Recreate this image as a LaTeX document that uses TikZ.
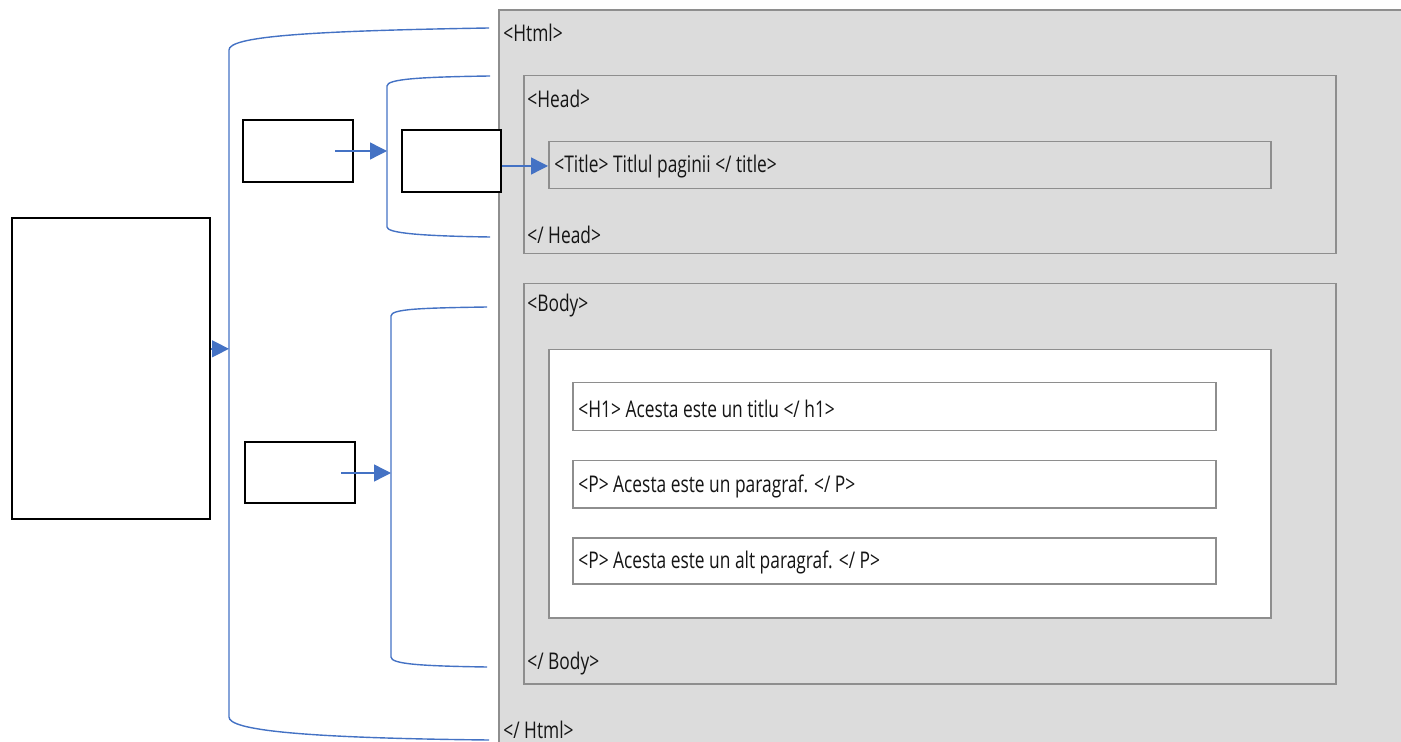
\documentclass[tikz,border=0pt]{standalone}
\usepackage{fontspec}
\setmainfont[FakeStretch=0.755]{Open Sans}
\usetikzlibrary{arrows.meta}
\definecolor{bgray}{HTML}{DCDCDC}
\definecolor{lgray}{HTML}{8E8E8E}
\definecolor{bblue}{HTML}{4472C4}
\definecolor{tcol}{HTML}{151515}
\tikzset{
  blk/.style={draw=black, line width=1pt, fill=white, anchor=north west, inner sep=0pt},
  gbox/.style={draw=lgray, line width=0.75pt, anchor=north west, inner sep=0pt},
  tag/.style={anchor=west, inner sep=0pt, text=tcol, font=\fontsize{11.5}{13}\selectfont},
  brk/.style={draw=bblue, line width=0.7pt},
  arr/.style={draw=bblue, line width=0.7pt, -{Triangle[length=8.5pt,width=8.5pt]}},
}
\begin{document}
\begin{tikzpicture}[x=0.5pt,y=-0.5pt]
\useasboundingbox (0,0) rectangle (1401,742);
\clip (0,0) rectangle (1401,742);
% html background
\fill[bgray] (499,10) rectangle (1410,750);
\draw[lgray, line width=0.75pt] (499,750) -- (499,10) -- (1410,10);
% head and body boxes
\node[gbox, fill=bgray, minimum width=406pt, minimum height=89pt] (head) at (523,75) {};
\node[gbox, fill=bgray, minimum width=361pt, minimum height=23.5pt] (titlebox) at (548,141) {};
\node[gbox, fill=bgray, minimum width=406pt, minimum height=200pt] (body) at (523,283) {};
\node[gbox, fill=white, minimum width=361pt, minimum height=134pt] (inner) at (548,349) {};
\node[gbox, fill=white, minimum width=321.5pt, minimum height=24pt] (h1) at (572,382) {};
\node[gbox, fill=white, minimum width=321.5pt, minimum height=23.5pt] (p1) at (572,460) {};
\node[gbox, fill=white, minimum width=321.5pt, minimum height=23pt] (p2) at (572,537) {};
% texts
\node[tag] (thtml) at (503,33) {<Html>};
\node[tag] (thead) at (527,99) {<Head>};
\node[tag] (ttitle) at (554,167) {<Title> Titlul paginii </ title>};
\node[tag] (theadc) at (527,235) {</ Head>};
\node[tag] (tbody) at (527,306) {<Body>};
\node[tag] (th1) at (578,409) {<H1> Acesta este un titlu </ h1>};
\node[tag] (tp1) at (578,486) {<P> Acesta este un paragraf. </ P>};
\node[tag] (tp2) at (578,562) {<P> Acesta este un alt paragraf. </ P>};
\node[tag] (tbodyc) at (527,664) {</ Body>};
\node[tag] (thtmlc) at (503,730) {</ Html>};
% black boxes
\node[blk, minimum width=99pt, minimum height=150.5pt] (big) at (11,217) {};
\node[blk, minimum width=55pt, minimum height=31pt] (boxa) at (242,119) {};
\node[blk, minimum width=49.5pt, minimum height=31pt] (boxb) at (401,129) {};
\node[blk, minimum width=55pt, minimum height=30.5pt] (boxc) at (244,441) {};
% brackets
\draw[brk] (489,28) .. controls (300,31) and (229,37) .. (229,50)
  -- coordinate[pos=0.448] (outmid) (229,717)
  .. controls (229,730) and (300,738) .. (489,740);
\draw[brk] (490,76) .. controls (420,77) and (387,79) .. (387,86)
  -- coordinate[pos=0.478] (headmid) (387,227)
  .. controls (387,233) and (420,236) .. (490,237);
\draw[brk] (487,307) .. controls (420,308) and (391,309) .. (391,316)
  -- coordinate[pos=0.457] (bodymid) (391,657)
  .. controls (391,664) and (420,666) .. (487,667);
% arrows
\coordinate (astart) at (335,151);
\coordinate (cstart) at (341,473);
\coordinate (bmid) at (0,166);
\draw[arr] (big.east |- outmid) -- (outmid);
\draw[arr] (astart) -- (astart -| headmid);
\draw[arr] (cstart) -- (cstart -| bodymid);
\draw[arr] (boxb.east |- bmid) -- (titlebox.west |- bmid);
\end{tikzpicture}
\end{document}
